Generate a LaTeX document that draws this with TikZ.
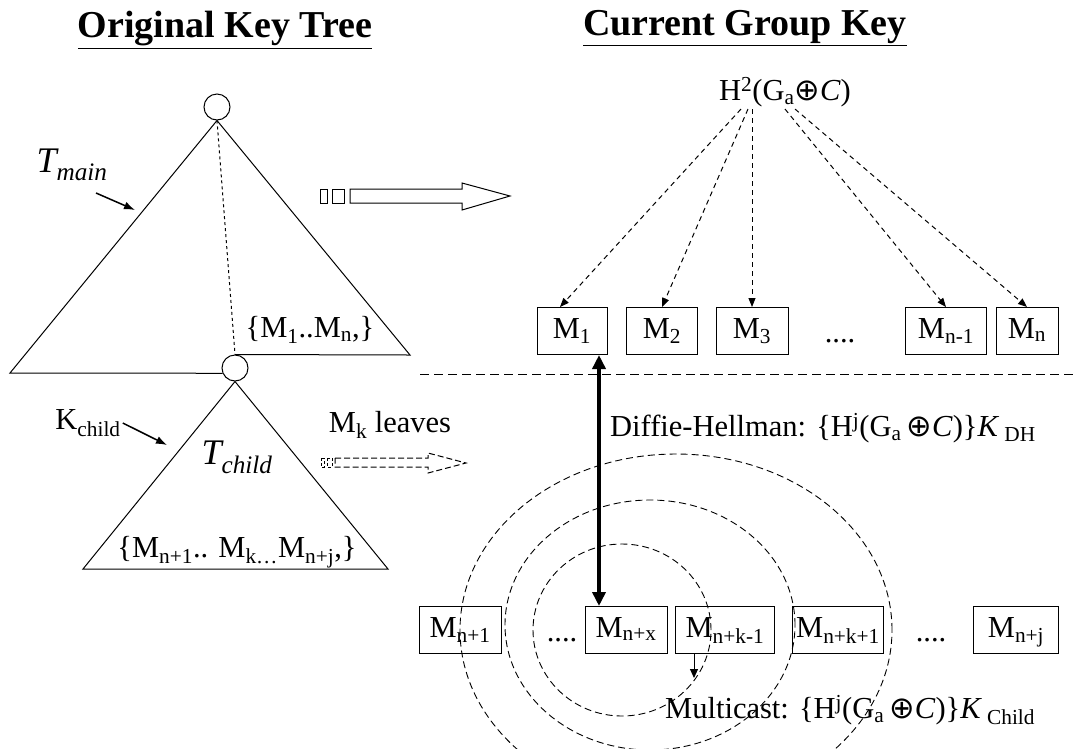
\documentclass[tikz,border=0pt]{standalone}
\usepackage{fontspec}
\setmainfont{Liberation Serif}
\newfontfamily\symfam{DejaVu Sans}
\usepackage{tikz}
\usetikzlibrary{arrows.meta,positioning}
\newcommand{\oplussym}{{\symfam ⊕}}

\begin{document}
\begin{tikzpicture}[
    x=1pt, y=-1pt,
    every node/.style={font=\fontsize{30.5}{36}\selectfont, inner sep=2pt},
    title/.style={font=\fontsize{38}{45}\selectfont\bfseries},
    bigital/.style={font=\fontsize{36}{43}\selectfont\itshape},
    member/.style={draw, minimum height=47pt, inner sep=0pt, text height=21pt, text depth=7pt, line width=1pt},
    knode/.style={draw, circle, minimum size=26pt, inner sep=0pt, line width=1pt},
    fan/.style={line width=1pt, dash pattern=on 5pt off 4pt, -{Triangle[length=9pt,width=7pt]}},
    pointer/.style={line width=1.5pt, -{Latex[length=11pt,width=8pt]}},
    dh/.style={line width=4pt, {Triangle[length=14pt,width=13pt]}-{Triangle[length=14pt,width=13pt]}},
    ring/.style={line width=0.9pt, dash pattern=on 7pt off 4pt}
]
\useasboundingbox (0,0) rectangle (1073,748);

% titles
\node[title] (lefttitle) at (225,30) {\underline{Original Key Tree}};
\node[title] (righttitle) at (745,28) {\underline{Current Group Key}};

% original key tree
\node[knode] (rootkey) at (217,107) {};
\node[knode] (childkey) at (235,368) {};
\coordinate (mainleft) at (10,373);
\coordinate (mainright) at (410,355);
\coordinate (childleft) at (83,569);
\coordinate (childright) at (388,569);
\draw[line width=1pt] (rootkey.south) -- (mainleft) -- (childkey.203);
\draw[line width=1pt] (childkey.north) -- (mainright) -- (rootkey.south);
\draw[line width=1pt, dashed] (rootkey.south) -- (childkey.north);
\draw[line width=1pt] (childkey.south) -- (childleft) -- (childright) -- cycle;

\node[bigital] (tmain) at (72,165) {T\textsubscript{main}};
\coordinate (tmaintip) at (135,210);
\draw[pointer] (tmain) ++(24,28) -- (tmaintip);
\node (mainset) at (310,330) {\{M\textsubscript{1}..M\textsubscript{n},\}};

\node (kchild) at (88,423) {K\textsubscript{child}};
\coordinate (kchildtip) at (167,445);
\draw[pointer] (kchild.east) -- (kchildtip);
\node[bigital] (tchild) at (237,457) {T\textsubscript{child}};
\node (childset) at (237,552) {\{M\textsubscript{n+1}.. M\textsubscript{k\dots}M\textsubscript{n+j},\}};

% hollow arrows
\draw[line width=1pt] (320,189) rectangle (327,203);
\draw[line width=1pt] (332,189) rectangle (344,203);
\draw[line width=1pt] (350,189) -- (462,189) -- (462,183) -- (510,196) -- (462,210) -- (462,203) -- (350,203) -- cycle;
\node (leaves) at (390,425) {M\textsubscript{k} leaves};
\draw[line width=1pt, dash pattern=on 3pt off 2pt] (321,458) rectangle (324,467);
\draw[line width=1pt, dash pattern=on 3pt off 2pt] (327,458) rectangle (332,467);
\draw[line width=1pt, dash pattern=on 6pt off 3pt] (335,458) -- (428,458) -- (428,453) -- (466,463) -- (428,473) -- (428,467) -- (335,467) -- cycle;

% current group key
\node (root) at (785,92) {H\textsuperscript{2}(G\textsubscript{a}\oplussym\textit{C})};
\node[member, minimum width=70pt] (m1) at (572,331) {M\textsubscript{1}};
\node[member, minimum width=71pt] (m2) at (662,331) {M\textsubscript{2}};
\node[member, minimum width=72pt] (m3) at (752,331) {M\textsubscript{3}};
\node[anchor=base] (topdots) at (840,342) {....};
\node[member, minimum width=81pt] (mn1) at (946,331) {M\textsubscript{n-1}};
\node[member, minimum width=62pt] (mn) at (1027,331) {M\textsubscript{n}};

\draw[fan] ([xshift=-44pt]root.south) -- ([xshift=-12pt]m1.north);
\draw[fan] ([xshift=-37pt]root.south) -- (m2.north);
\draw[fan] ([xshift=-33pt]root.south) -- (m3.north);
\draw[fan] (root.south) -- (mn1.north);
\draw[fan] ([xshift=10pt]root.south) -- (mn.north);

\draw[line width=1pt, dash pattern=on 9pt off 5pt] (420,374) -- (1073,374);

\node[member, minimum width=82pt] (mp1) at (460,630) {M\textsubscript{n+1}};
\node[anchor=base] (lowdots) at (562,641) {....};
\node[member, minimum width=82pt] (mnx) at (626,630) {M\textsubscript{n+x}};
\node[member, minimum width=99pt] (mk1) at (725,630) {M\textsubscript{n+k-1}};
\node[member, minimum width=91pt] (mkp1) at (838,630) {M\textsubscript{n+k+1}};
\node[anchor=base] (enddots) at (931,641) {....};
\node[member, minimum width=85pt] (mnj) at (1016,630) {M\textsubscript{n+j}};

% Diffie-Hellman link
\coordinate (dhx) at (599,0);
\draw[dh] (m1.south -| dhx) -- (mnx.north -| dhx);
\node[anchor=west] (dhlabel) at (608,428) {Diffie-Hellman: \{H\textsuperscript{j}(G\textsubscript{a}\,\oplussym\textit{C})\}\textit{K}\,\textsubscript{DH}};

% multicast rings
\draw[ring] (622,630) ellipse [x radius=89pt, y radius=86pt];
\draw[ring] (650,625) ellipse [x radius=145pt, y radius=125pt];
\draw[ring] (676,630) ellipse [x radius=216pt, y radius=176pt];
\coordinate (mcend) at (694,678);
\draw[line width=1pt, -{Triangle[length=9pt,width=8pt]}] (mk1.south -| mcend) -- (mcend);
\node[anchor=west] (mclabel) at (663,710) {Multicast: \{H\textsuperscript{j}(G\textsubscript{a}\,\oplussym\textit{C})\}\textit{K}\,\textsubscript{Child}};
\end{tikzpicture}
\end{document}
